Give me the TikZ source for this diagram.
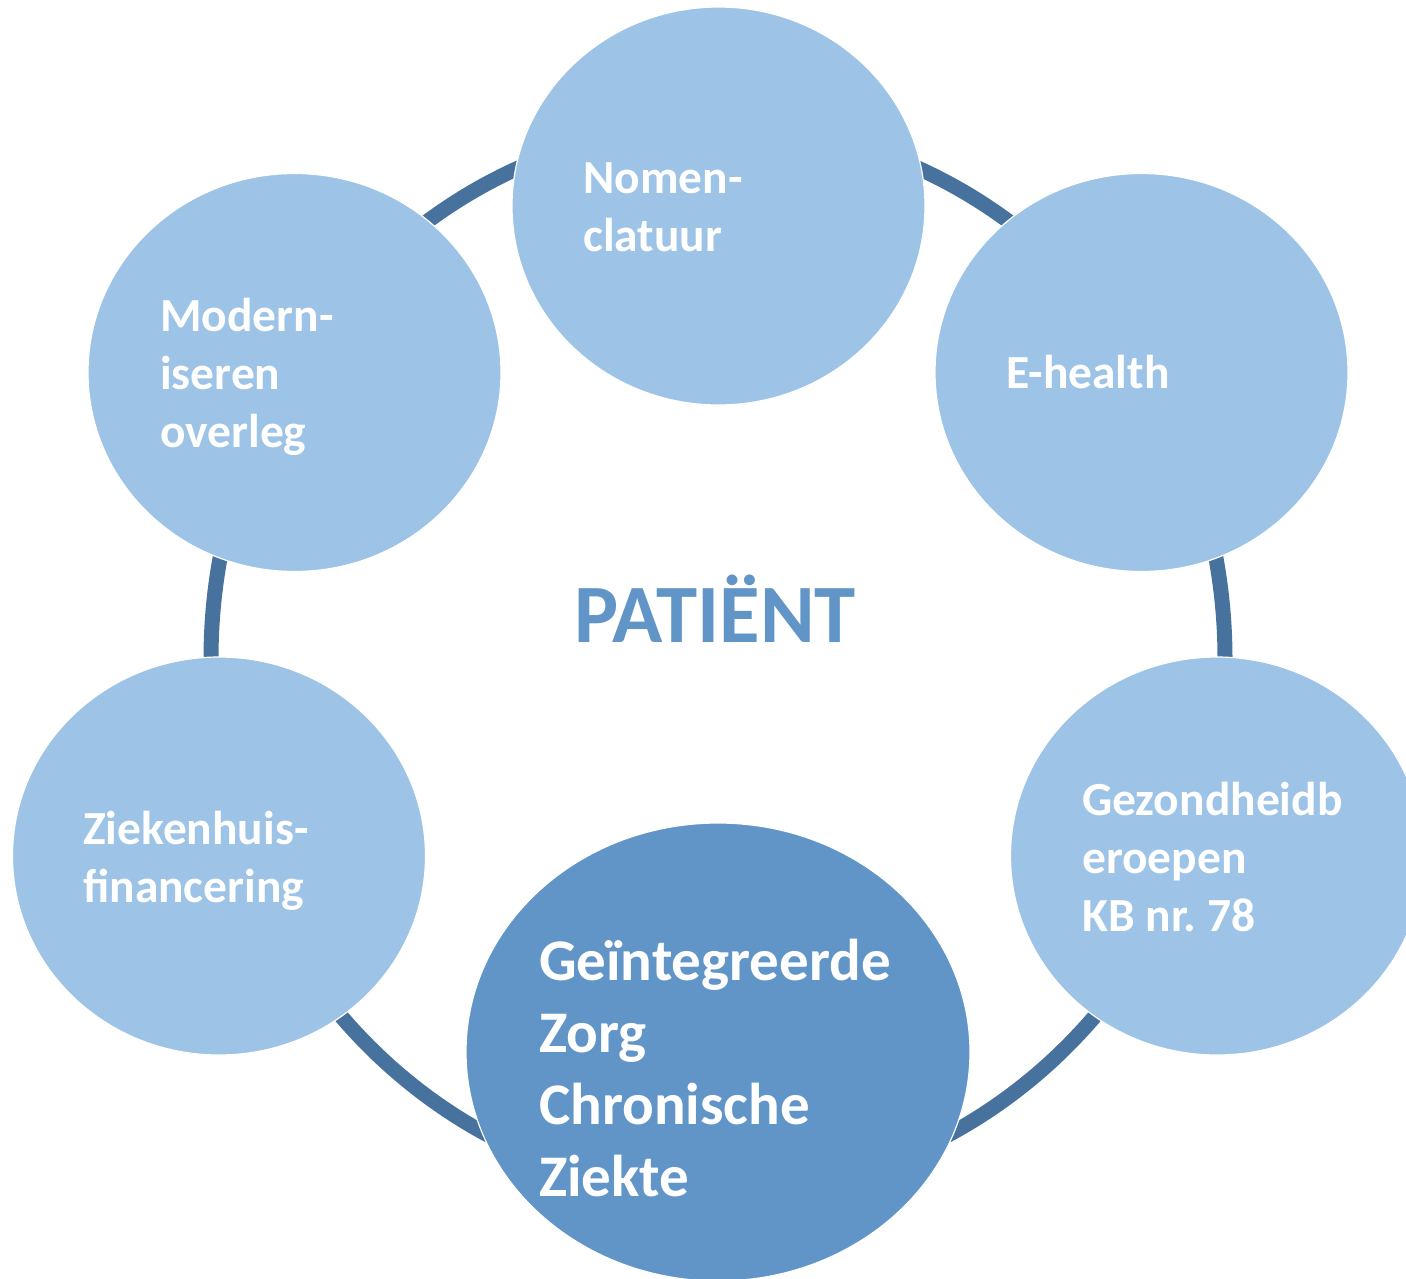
\documentclass[tikz,border=0pt]{standalone}
\usepackage{fontspec}
\setmainfont{Carlito}
\usetikzlibrary{shapes.geometric}
\definecolor{lightblue}{HTML}{9DC3E6}
\definecolor{darkblue}{HTML}{6195C8}
\definecolor{ringblue}{HTML}{48729E}
\tikzset{
  ringline/.style={draw=ringblue, line width=15pt},
  bubble/.style={ellipse, fill=lightblue, draw=white, line width=1.2pt, minimum width=413pt, minimum height=398pt, inner sep=0pt},
  bigbubble/.style={ellipse, fill=darkblue, draw=white, line width=1.2pt, minimum width=504pt, minimum height=458pt, inner sep=0pt},
  lbl/.style={text=white, font=\fontsize{47.5}{58}\selectfont\bfseries, align=left, inner sep=0pt, anchor=west},
  biglbl/.style={text=white, font=\fontsize{59}{72}\selectfont\bfseries, align=left, inner sep=0pt, anchor=west},
  centerlbl/.style={text=darkblue, font=\fontsize{83}{100}\selectfont\bfseries, inner sep=0pt, anchor=base}
}
\begin{document}
\begin{tikzpicture}[x=1pt,y=-1pt]
\useasboundingbox (0,0) rectangle (1406,1278);
\draw[ringline] (718,659) ellipse [x radius=507, y radius=534];
\node[bubble] (nom) at (718.5,206) {};
\node[bubble] (mod) at (294.5,372.5) {};
\node[bubble] (ehe) at (1141.5,372.5) {};
\node[bubble] (zie) at (219,856) {};
\node[bubble] (gez) at (1217,856) {};
\node[bigbubble] (gei) at (718,1052) {};
\node[lbl] (tnom) at (583,207.5) {Nomen-\\clatuur};
\node[lbl] (tmod) at (160,377) {Modern-\\iseren\\overleg};
\node[lbl] (tehe) at (1006,372) {E-health};
\node[lbl] (tzie) at (83,860.5) {Ziekenhuis-\\financering};
\node[lbl] (tgez) at (1082,857) {Gezondheidb\\eroepen\\KB nr.\ 78};
\node[biglbl] (tgei) at (539,1068) {Geïntegreerde\\Zorg\\Chronische\\Ziekte};
\node[centerlbl] (pat) at (715,642) {PATIËNT};
\end{tikzpicture}
\end{document}
